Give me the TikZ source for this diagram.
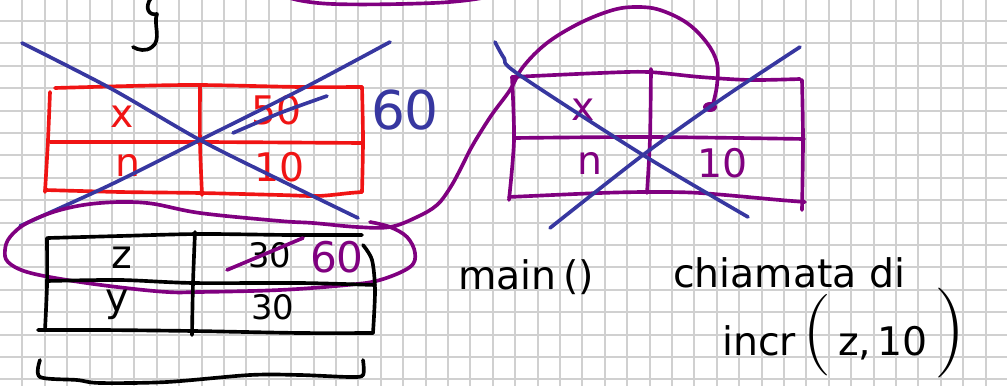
\documentclass[tikz,border=0pt]{standalone}
\usepackage{fontspec}
\setmainfont{DejaVu Sans}
\newfontfamily\thinparen{Latin Modern Roman}
\usetikzlibrary{positioning}

\definecolor{inkred}{RGB}{240,20,20}
\definecolor{inkblue}{RGB}{55,55,160}
\definecolor{inkpurple}{RGB}{128,0,128}
\definecolor{gridgray}{RGB}{208,208,208}

\begin{document}
\begin{tikzpicture}[
    x=0.025cm, y=-0.025cm,
    pen/.style={line width=2.6pt, line cap=round, line join=round}, % Style for ink strokes
    hand/.style={font=\fontsize{28}{30}\selectfont, inner sep=0pt}  % Style for written text
]

% Paper and grid
\fill[white] (0,0) rectangle (1007,386);
\useasboundingbox (0,0) rectangle (1007,386);
\foreach \i in {1,...,44}
    \draw[gridgray, line width=1.4pt] (\i*22.4,0) -- (\i*22.4,386);
\foreach \j in {0,...,16}
    \draw[gridgray, line width=1.4pt] (0,21+\j*22.4) -- (1007,21+\j*22.4);

% Leftovers at the top edge
\draw[pen, black] (151,-2) .. controls (144,8) and (149,16) .. (157,14)
    .. controls (153,24) and (162,40) .. (152,47)
    .. controls (146,52) and (138,50) .. (133,47);
\draw[pen, inkpurple] plot [smooth, tension=0.7] coordinates {
    (290,-2) (333,4) (433,3) (482,-2)
};

% Red table (incr frame)
\draw[pen, inkred] plot [smooth] coordinates {(55,88) (130,86) (200,85) (300,87) (362,87)};
\draw[pen, inkred] plot [smooth] coordinates {(362,87) (363,140) (362,192)};
\draw[pen, inkred] plot [smooth] coordinates {(45,190) (120,192) (200,193) (280,195) (318,196) (350,193) (362,192)};
\draw[pen, inkred] plot [smooth] coordinates {(50,92) (48,140) (45,192)};
\draw[pen, inkred] plot [smooth] coordinates {(50,142) (200,142) (362,143)};
\draw[pen, inkred] plot [smooth] coordinates {(200,86) (200,142) (202,195)};

\node[hand, text=inkred] (rx) at (122,117) {x};
\node[hand, text=inkred] (r50) at (277,110) {50};
\node[hand, text=inkred] (rn) at (128,165) {n};
\node[hand, text=inkred] (r10) at (280,167) {10};

% Blue corrections on the red table
\draw[pen, inkblue] plot [smooth] coordinates {(233,133) (280,113) (327,96)};
\node[hand, text=inkblue, font=\fontsize{38}{40}\selectfont] (b60) at (405,110) {60};
\draw[pen, inkblue] plot [smooth] coordinates {(22,43) (110,88) (200,140) (280,180) (358,218)};
\draw[pen, inkblue] plot [smooth] coordinates {(390,42) (300,90) (200,140) (110,185) (20,226)};

% Purple table (main frame seen from incr)
\draw[pen, inkpurple] plot [smooth] coordinates {(512,77) (600,73) (648,72) (700,77) (750,80) (800,79)};
\draw[pen, inkpurple] plot [smooth] coordinates {(802,80) (803,140) (802,210)};
\draw[pen, inkpurple] plot [smooth] coordinates {(509,197) (600,193) (650,192) (700,193) (780,200) (805,202)};
\draw[pen, inkpurple] plot [smooth] coordinates {(512,77) (514,140) (509,200)};
\draw[pen, inkpurple] plot [smooth] coordinates {(514,138) (650,137) (804,139)};
\draw[pen, inkpurple] plot [smooth] coordinates {(651,69) (650,138) (647,193)};

\node[hand, text=inkpurple] (px) at (583,110) {x};
\node[hand, text=inkpurple] (pn) at (590,163) {n};
\node[hand, text=inkpurple] (p10) at (723,163) {10};
\fill[inkpurple] (710,107) ellipse (7 and 5);

% Pointer from the purple table round to z
\draw[pen, inkpurple] plot [smooth, tension=0.6] coordinates {
    (713,104) (717,85) (717,63) (707,43) (687,23) (660,10) (637,7) (613,10)
    (580,23) (547,43) (523,67) (510,90) (493,113) (480,133) (470,150)
    (460,170) (450,188) (437,205) (417,217) (390,227) (357,227) (313,223)
    (280,221) (200,213) (147,203) (100,203) (60,210) (27,223) (10,237)
    (5,250) (8,262) (27,272) (67,280) (117,287) (167,292) (200,292)
    (280,290) (347,285) (380,280) (410,267) (415,253) (407,237) (390,227)
    (370,222)
};

% Blue cross on the purple table
\draw[pen, inkblue] plot [smooth] coordinates {(495,42) (504,58) (518,74) (643,155) (748,217)};
\draw[pen, inkblue] plot [smooth] coordinates {(800,47) (720,100) (643,155) (550,228)};

% Black table (main frame)
\draw[pen, black] plot [smooth] coordinates {(48,238) (120,236) (200,234) (290,235) (362,235)};
\draw[pen, black] plot [smooth] coordinates {(47,238) (47,285) (45,330)};
\draw[pen, black] plot [smooth] coordinates {(38,330) (100,330) (193,331) (300,333) (373,333)};
\draw[pen, black] plot [smooth] coordinates {(363,245) (372,260) (375,290) (373,333)};
\draw[pen, black] plot [smooth] coordinates {(47,281) (120,280) (193,283) (300,283) (375,285)};
\draw[pen, black] plot [smooth] coordinates {(195,232) (193,283) (192,335)};

\node[hand] (kz) at (122,258) {z};
\node[hand, font=\fontsize{24}{26}\selectfont] (k30) at (270,255) {30};
\draw[pen, inkpurple] (227,270) -- (303,238);
\node[hand, text=inkpurple, font=\fontsize{30}{32}\selectfont] (k60) at (337,257) {60};
\node[hand] (ky) at (117,305) {y};
\node[hand, font=\fontsize{24}{26}\selectfont] (k30b) at (273,307) {30};

% Bracket under the black table
\draw[pen, black] plot [smooth, tension=0.5] coordinates {
    (40,360) (40,377) (77,380) (100,383) (167,382) (250,375) (300,375)
    (350,377) (363,375) (363,360)
};

% Notes
\node[hand, anchor=base west] (mainlbl) at (458,290) {main\,()};
\node[hand, anchor=base west] (calllbl) at (673,288) {chiamata di};
\node[hand, anchor=base west] (incrlbl) at (722,356)
    {incr\,{\thinparen\fontsize{58}{58}\selectfont(}\,z,\,10\,{\thinparen\fontsize{64}{64}\selectfont)}};

\end{tikzpicture}
\end{document}
